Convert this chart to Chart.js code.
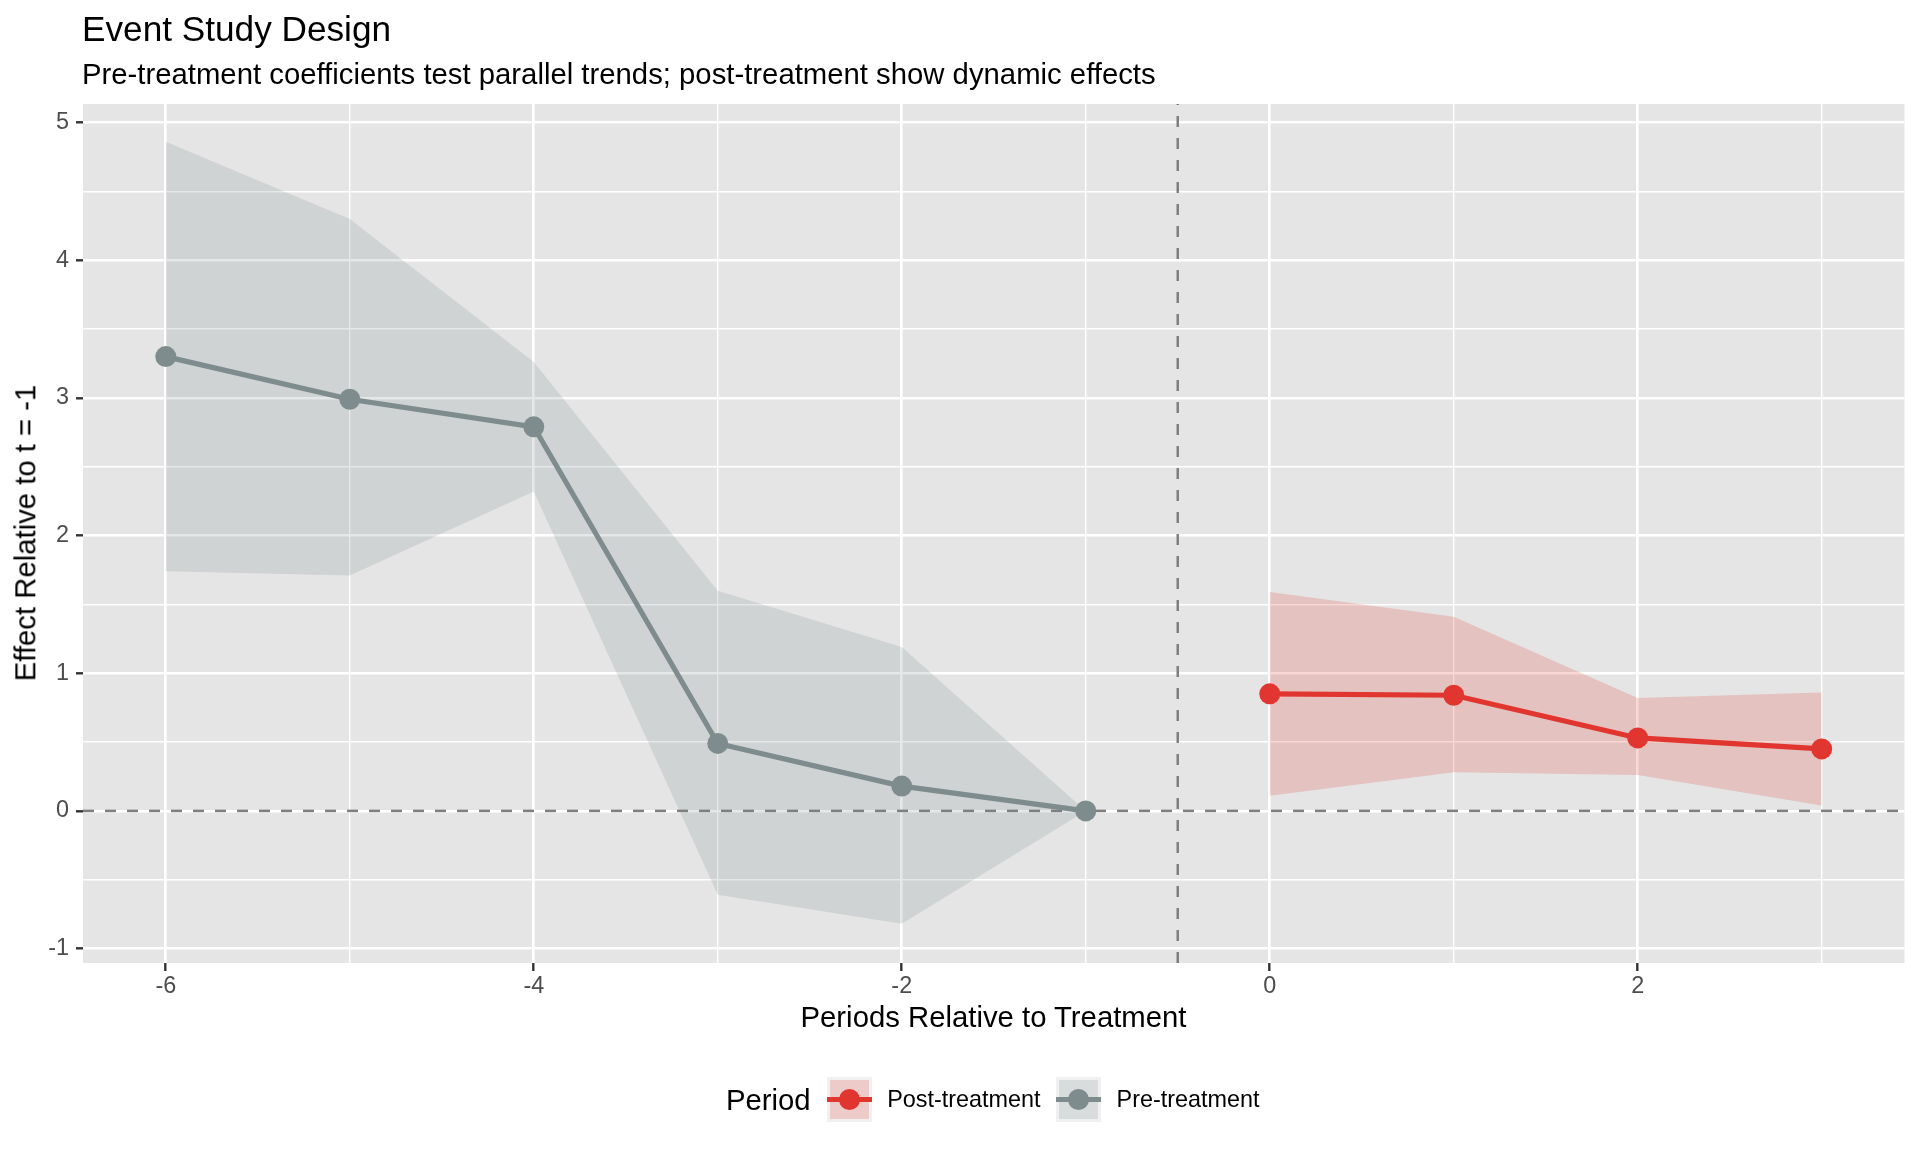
<!DOCTYPE html>
<html>
<head>
<meta charset="utf-8">
<script src="https://cdn.jsdelivr.net/npm/chart.js@4.4.1/dist/chart.umd.min.js"></script>
<style>
  body { margin: 0; background: #fff; font-family: "Liberation Sans", Arial, Helvetica, sans-serif; }
  #wrap { position: relative; width: 1920px; height: 1152px; overflow: hidden; }
  #chart { position: absolute; left: 0; top: 0; }
  .txt { position: absolute; white-space: nowrap; color: #000; line-height: 1; }
  #legend { position: absolute; left: 90px; width: 1821px; top: 1077px; height: 45px;
            display: flex; justify-content: center; align-items: center; }
  #legend .title { font-size: 29.3px; margin-right: 16px; }
  #legend .lab { font-size: 23.4px; margin: 0 15.5px; }
  .key { position: relative; width: 45px; height: 45px; background: #F0F0F0; }
  .key .fill { position: absolute; left: 3px; top: 3px; right: 3px; bottom: 3px; }
  .key .ln { position: absolute; left: 0; right: 0; top: 19.9px; height: 5.2px; }
  .key .pt { position: absolute; left: 12px; top: 12px; width: 21px; height: 21px; border-radius: 50%; }
</style>
</head>
<body>
<div id="wrap">
  <canvas id="chart" width="1920" height="1152"></canvas>
  <div class="txt" style="left:82px; top:11px; font-size:35.2px;">Event Study Design</div>
  <div class="txt" style="left:82px; top:58.5px; font-size:29.3px;">Pre-treatment coefficients test parallel trends; post-treatment show dynamic effects</div>
  <div class="txt" style="left:83px; width:1821px; text-align:center; top:1002px; font-size:29.3px;">Periods Relative to Treatment</div>
  <div class="txt" style="left:25px; top:533px; font-size:29.3px; transform: translate(-50%, -50%) rotate(-90deg);">Effect Relative to t = -1</div>
  <div id="legend">
    <span class="title">Period</span>
    <div class="key"><div class="fill" style="background:rgba(225,54,47,0.2)"></div><div class="ln" style="background:#E1362F"></div><div class="pt" style="background:#E1362F"></div></div>
    <span class="lab">Post-treatment</span>
    <div class="key"><div class="fill" style="background:rgba(127,140,141,0.2)"></div><div class="ln" style="background:#7F8C8D"></div><div class="pt" style="background:#7F8C8D"></div></div>
    <span class="lab">Pre-treatment</span>
  </div>
</div>
<script>
const PRE_COLOR = '#7F8C8D';
const POST_COLOR = '#E1362F';

const prePeriods = [-6, -5, -4, -3, -2, -1];
const preEstimate = [3.30, 2.99, 2.79, 0.49, 0.18, 0.00];
const preUpper = [4.86, 4.30, 3.26, 1.60, 1.19, 0.00];
const preLower = [1.74, 1.71, 2.32, -0.61, -0.82, 0.00];

const postPeriods = [0, 1, 2, 3];
const postEstimate = [0.85, 0.84, 0.53, 0.45];
const postUpper = [1.59, 1.41, 0.82, 0.86];
const postLower = [0.11, 0.28, 0.26, 0.04];

const xTicks = [-6, -5, -4, -3, -2, -1, 0, 1, 2, 3];
const xLabels = [-6, -4, -2, 0, 2];
const yTicks = [-1, -0.5, 0, 0.5, 1, 1.5, 2, 2.5, 3, 3.5, 4, 4.5, 5];
const yLabels = [-1, 0, 1, 2, 3, 4, 5];
const xRange = [-6.45, 3.45];
const yRange = [-1.105, 5.135];
const treatmentStart = -0.5;

function pts(xs, ys) {
  return xs.map((x, i) => ({ x: x, y: ys[i] }));
}

function ribbon(xs, ys, color, fill) {
  return {
    data: pts(xs, ys),
    borderWidth: 0,
    borderColor: 'rgba(0,0,0,0)',
    backgroundColor: color,
    pointRadius: 0,
    fill: fill,
    order: 3
  };
}

function refLine(data) {
  return {
    data: data,
    borderColor: '#7F7F7F',
    borderWidth: 2.5,
    borderDash: [11, 11],
    pointRadius: 0,
    fill: false,
    order: 2
  };
}

function estimateLine(xs, ys, color) {
  return {
    data: pts(xs, ys),
    borderColor: color,
    borderWidth: 5.2,
    pointRadius: 10.5,
    pointBackgroundColor: color,
    pointBorderWidth: 0,
    fill: false,
    order: 1
  };
}

const panelBackground = {
  id: 'panelBackground',
  beforeDraw(chart) {
    const a = chart.chartArea;
    const ctx = chart.ctx;
    ctx.save();
    ctx.fillStyle = '#E5E5E5';
    ctx.fillRect(a.left, a.top, a.right - a.left, a.bottom - a.top);
    ctx.restore();
  }
};

const tickFont = { family: '"Liberation Sans", Arial, sans-serif', size: 23.4 };

new Chart(document.getElementById('chart').getContext('2d'), {
  type: 'line',
  data: {
    datasets: [
      ribbon(prePeriods, preUpper, 'rgba(127,140,141,0.2)', '+1'),
      ribbon(prePeriods, preLower, 'rgba(0,0,0,0)', false),
      ribbon(postPeriods, postUpper, 'rgba(225,54,47,0.2)', '+1'),
      ribbon(postPeriods, postLower, 'rgba(0,0,0,0)', false),
      refLine([{ x: xRange[0], y: 0 }, { x: xRange[1], y: 0 }]),
      refLine([{ x: treatmentStart, y: yRange[0] }, { x: treatmentStart, y: yRange[1] }]),
      estimateLine(prePeriods, preEstimate, PRE_COLOR),
      estimateLine(postPeriods, postEstimate, POST_COLOR)
    ]
  },
  options: {
    responsive: false,
    devicePixelRatio: 1,
    animation: false,
    events: [],
    layout: { padding: { top: 104, right: 15.5, left: 0, bottom: 0 } },
    elements: { line: { tension: 0 } },
    plugins: {
      legend: { display: false },
      tooltip: { enabled: false },
      title: { display: false }
    },
    scales: {
      x: {
        type: 'linear',
        min: xRange[0],
        max: xRange[1],
        afterBuildTicks: s => { s.ticks = xTicks.map(v => ({ value: v })); },
        afterFit: s => { s.height = 189; },
        border: { display: false },
        grid: {
          color: '#FFFFFF',
          lineWidth: c => xLabels.includes(c.tick.value) ? 2.6 : 1.4,
          tickColor: c => xLabels.includes(c.tick.value) ? '#333333' : 'rgba(0,0,0,0)',
          tickWidth: 2.4,
          tickLength: 8
        },
        ticks: {
          autoSkip: false,
          maxRotation: 0,
          padding: 2,
          color: '#4D4D4D',
          font: tickFont,
          callback: v => xLabels.includes(v) ? String(v) : ''
        }
      },
      y: {
        type: 'linear',
        min: yRange[0],
        max: yRange[1],
        afterBuildTicks: s => { s.ticks = yTicks.map(v => ({ value: v })); },
        afterFit: s => { s.width = 83; },
        border: { display: false },
        grid: {
          color: '#FFFFFF',
          lineWidth: c => yLabels.includes(c.tick.value) ? 2.6 : 1.4,
          tickColor: c => yLabels.includes(c.tick.value) ? '#333333' : 'rgba(0,0,0,0)',
          tickWidth: 2.4,
          tickLength: 7
        },
        ticks: {
          autoSkip: false,
          padding: 7,
          color: '#4D4D4D',
          font: tickFont,
          callback: v => yLabels.includes(v) ? String(v) : ''
        }
      }
    }
  },
  plugins: [panelBackground]
});
</script>
</body>
</html>
